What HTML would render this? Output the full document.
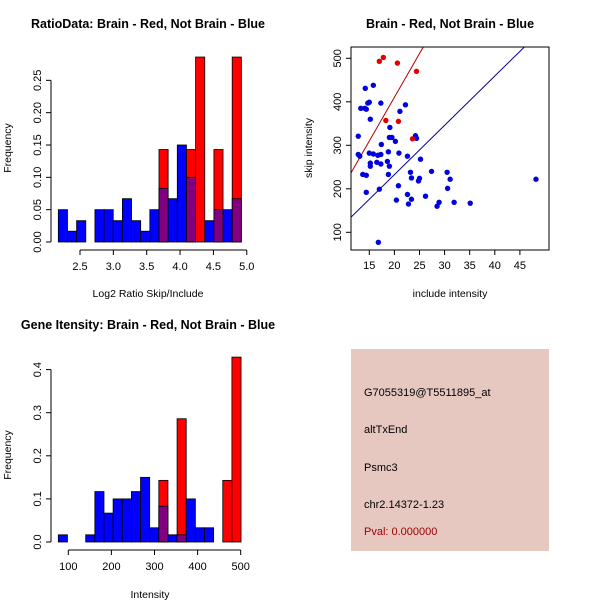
<!DOCTYPE html>
<html><head><meta charset="utf-8"><style>
body{margin:0;background:#fff}
svg{display:block;font-family:"Liberation Sans",sans-serif}
</style></head><body>
<svg id="s" width="600" height="600" viewBox="0 0 600 600" xmlns="http://www.w3.org/2000/svg">
<rect width="600" height="600" fill="#fff"/>
<text x="148" y="28" font-size="12.5" font-weight="bold" text-anchor="middle">RatioData: Brain - Red, Not Brain - Blue</text>
<text x="450" y="28" font-size="12.5" font-weight="bold" text-anchor="middle">Brain - Red, Not Brain - Blue</text>
<text x="148" y="329" font-size="12.5" font-weight="bold" text-anchor="middle">Gene Itensity: Brain - Red, Not Brain - Blue</text>
<g id="p1"></g>
<g id="p2"></g>
<g id="p3"></g>
<g>
<rect x="351" y="349" width="198" height="202" fill="#e6c8c1"/>
<text x="364" y="396" font-size="11">G7055319@T5511895_at</text>
<text x="364" y="433" font-size="11">altTxEnd</text>
<text x="364" y="471" font-size="11">Psmc3</text>
<text x="364" y="508" font-size="11">chr2.14372-1.23</text>
<text x="364" y="535" font-size="11" fill="#a00000">Pval: 0.000000</text>
</g>
</svg>
<script>
// Ratio histogram data
const ratioStart = 2.175, ratioBinW = 0.1372;
const ratioBlue = [0.05,0.0167,0.033,0,0.05,0.05,0.033,0.067,0.033,0.0167,0.05,0.083,0.067,0.15,0.10,0,0.033,0.05,0.05,0.067];
const ratioRed  = [0,0,0,0,0,0,0,0,0,0,0,0.143,0,0,0.143,0.286,0,0.143,0,0.286];
const ratioXTicks = [2.5,3.0,3.5,4.0,4.5,5.0];
const ratioXLabels = ["2.5","3.0","3.5","4.0","4.5","5.0"];
const ratioYTicks = [0,0.05,0.10,0.15,0.20,0.25];
const ratioYLabels = ["0.00","0.05","0.10","0.15","0.20","0.25"];
// Intensity histogram data
const intStart = 76.8, intBinW = 21.2;
const intBlue = [0.0167,0,0,0.0167,0.117,0.067,0.1,0.1,0.117,0.15,0.033,0.083,0.0167,0.0167,0.1,0.033,0.033,0,0,0];
const intRed  = [0,0,0,0,0,0,0,0,0,0,0,0.143,0,0.286,0,0,0,0,0.143,0.429];
const intXTicks = [100,200,300,400,500];
const intYTicks = [0,0.1,0.2,0.3,0.4];
const intYLabels = ["0.0","0.1","0.2","0.3","0.4"];
// Scatter data
const redX = [17.0,17.8,20.6,24.4,18.3,20.8,23.6];
const redY = [493,502,489,470,357,355,315];
const blueX = [12.8,12.8,13.1,13.3,14.1,14.4,14.2,15.8,14.7,15,15.2,17.3,13.7,14.4,14.4,15,15.8,15.2,15.2,16.5,17.3,16.7,17.3,17.4,17,18.6,19,18.8,18.8,19.1,19,19.5,20.2,20.9,21.1,22.2,22.6,20.8,20.4,22.6,22.8,23.4,23.2,23.4,24.2,24.4,24.8,25,25.2,26.2,27.4,28.5,28.9,30.5,30.6,31.1,31.9,35.1,48.2,16.8];
const blueY = [321,279,275,385,385,383,431,438,397,399,360,397,233,231,192,282,280,259,252,261,257,277,279,302,199,263,252,285,233,341,318,318,309,282,378,393,275,207,174,187,165,176,238,225,322,316,218,224,268,183,240,160,169,238,201,222,169,167,222,77];
const lineSlope = [20.1,11.33];
const lineIntercept = [8.4,6.0];
const scXTicks = [15,20,25,30,35,40,45];
const scYTicks = [100,200,300,400,500];

const NS="http://www.w3.org/2000/svg";
function mk(parent,tag,attrs){const e=document.createElementNS(NS,tag);for(const k in attrs)e.setAttribute(k,attrs[k]);parent.appendChild(e);return e;}

function hist(g,cfg){
  const xs=v=>cfg.x0+(v-cfg.v0)*cfg.kx, ys=v=>cfg.y0-v*cfg.ky;
  for(let i=0;i<cfg.blue.length;i++){
    const a=cfg.start+i*cfg.bw, x1=xs(a), x2=xs(a+cfg.bw);
    const r=cfg.red[i], b=cfg.blue[i];
    if(r>0){const e=mk(g,'rect',{x:x1,y:ys(r),width:x2-x1,height:ys(0)-ys(r),fill:'#ff0000',stroke:'#000','stroke-width':0.8});
      
      }
    if(b>0){const e=mk(g,'rect',{x:x1,y:ys(b),width:x2-x1,height:ys(0)-ys(b),fill:r>0?'#80007f':'#0000ff',stroke:'#000','stroke-width':0.8});
      
      }
  }
  const yl=mk(g,'line',{x1:cfg.ax,x2:cfg.ax,y1:ys(cfg.yt[0]),y2:ys(cfg.yt[cfg.yt.length-1]),stroke:'#000'});
  
  
  cfg.yt.forEach((v,i)=>{mk(g,'line',{x1:cfg.ax-5,x2:cfg.ax,y1:ys(v),y2:ys(v),stroke:'#000'});
    const t=mk(g,'text',{x:0,y:0,transform:`translate(${cfg.ax-10},${ys(v)}) rotate(-90)`,'text-anchor':'middle','font-size':11});t.textContent=cfg.yl[i];
    
    });
  const ay=cfg.y0+8;
  const xl=mk(g,'line',{x1:xs(cfg.xt[0]),x2:xs(cfg.xt[cfg.xt.length-1]),y1:ay,y2:ay,stroke:'#000'});
  
  
  cfg.xt.forEach((v,i)=>{mk(g,'line',{x1:xs(v),x2:xs(v),y1:ay,y2:ay+5,stroke:'#000'});
    const t=mk(g,'text',{x:xs(v),y:ay+20,'text-anchor':'middle','font-size':11});t.textContent=cfg.xl[i];
    
    });
  const xt=mk(g,'text',{x:cfg.xc,y:cfg.xty,'text-anchor':'middle','font-size':10.5});xt.textContent=cfg.xtitle;
  
  
  const yt=mk(g,'text',{x:0,y:0,transform:`translate(11,${cfg.yc}) rotate(-90)`,'text-anchor':'middle','font-size':10.5});yt.textContent='Frequency';
  
  
}
hist(document.getElementById('p1'),{x0:80,v0:2.5,kx:66.7,y0:242,ky:646.7,start:ratioStart,bw:ratioBinW,blue:ratioBlue,red:ratioRed,ax:51,yt:ratioYTicks,yl:ratioYLabels,xt:ratioXTicks,xl:ratioXLabels,xc:148,xty:297,xtitle:'Log2 Ratio Skip/Include',yc:148});
hist(document.getElementById('p3'),{x0:68.3,v0:100,kx:0.431,y0:542,ky:431,start:intStart,bw:intBinW,blue:intBlue,red:intRed,ax:51,yt:intYTicks,yl:intYLabels,xt:intXTicks,xl:intXTicks.map(String),xc:150,xty:598,xtitle:'Intensity',yc:455});

// scatter
(function(){
  const g=document.getElementById('p2');
  const L=351,R=549,T=47,B=250;
  const xs=v=>369.3+(v-15)*5.02, ys=v=>58.3-(v-500)*0.435;
  const cp=mk(g,'clipPath',{id:'cp'});mk(cp,'rect',{x:L,y:T,width:R-L,height:B-T});
  lineSlope.forEach((m,i)=>{const x1=10,x2=55;
    const l=mk(g,'line',{x1:xs(x1),y1:ys(lineIntercept[i]+m*x1),x2:xs(x2),y2:ys(lineIntercept[i]+m*x2),stroke:i?'#00008b':'#b00000','stroke-width':1,'clip-path':'url(#cp)'});
    
    });
  blueX.forEach((x,i)=>{const c=mk(g,'circle',{cx:xs(x),cy:ys(blueY[i]),r:2.7,fill:'#0000e0'});
    
    });
  redX.forEach((x,i)=>{const c=mk(g,'circle',{cx:xs(x),cy:ys(redY[i]),r:2.7,fill:'#e00000'});
    
    });
  const f=mk(g,'rect',{x:L,y:T,width:R-L,height:B-T,fill:'none',stroke:'#000'});
  
  
  scXTicks.forEach(v=>{mk(g,'line',{x1:xs(v),x2:xs(v),y1:B,y2:B+5,stroke:'#000'});
    const t=mk(g,'text',{x:xs(v),y:B+19,'text-anchor':'middle','font-size':11});t.textContent=v;
    
    });
  scYTicks.forEach(v=>{mk(g,'line',{x1:L-5,x2:L,y1:ys(v),y2:ys(v),stroke:'#000'});
    const t=mk(g,'text',{x:0,y:0,transform:`translate(${L-10},${ys(v)}) rotate(-90)`,'text-anchor':'middle','font-size':11});t.textContent=v;
    
    });
  const xt=mk(g,'text',{x:450,y:297,'text-anchor':'middle','font-size':10.5});xt.textContent='include intensity';
  
  
  const yt=mk(g,'text',{x:0,y:0,transform:'translate(312,148) rotate(-90)','text-anchor':'middle','font-size':10.5});yt.textContent='skip intensity';
  
  
})();
</script>
</body></html>
